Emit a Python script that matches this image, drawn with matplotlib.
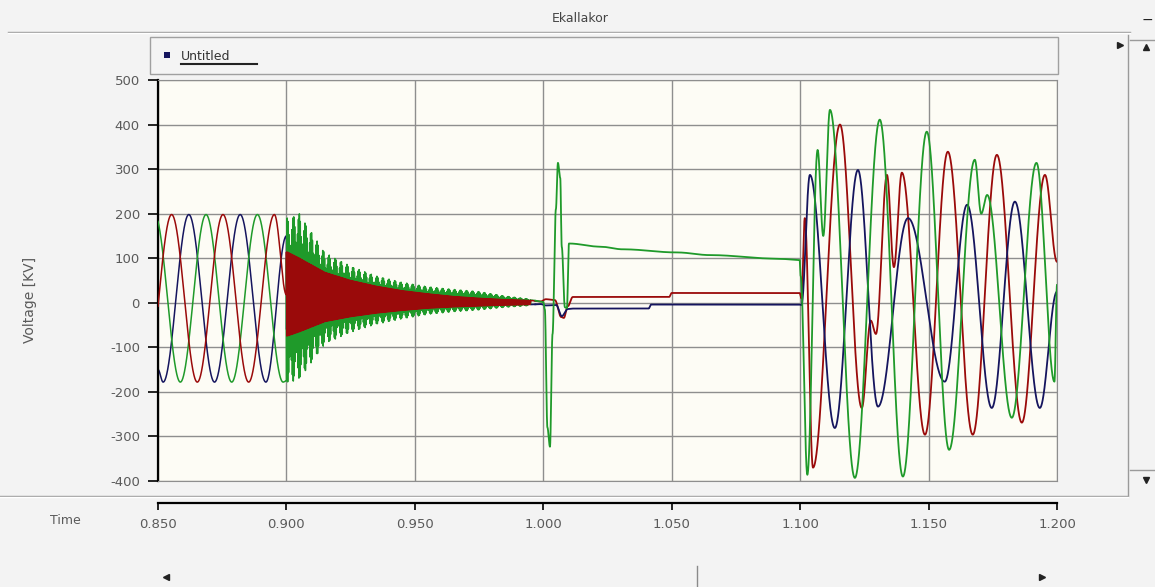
import numpy as np
import matplotlib.pyplot as plt
from matplotlib.lines import Line2D
from matplotlib.patches import Rectangle

plt.rcParams['axes.unicode_minus'] = False

# three phase voltages, kV, as (time, value) turning points
red_t = [0.8453, 0.8553, 0.8653, 0.8753, 0.8853, 0.8953, 0.9000,
         0.9950, 0.9990, 1.0010, 1.0045, 1.0070, 1.0080, 1.0095, 1.0115, 1.0490, 1.0500, 1.0998,
         1.1005, 1.1018, 1.1050, 1.1155, 1.1240, 1.1275, 1.1295, 1.1338, 1.1365, 1.1396,
         1.1486, 1.1575, 1.1672, 1.1766, 1.1863, 1.1953, 1.2000]
red_v = [-178, 198, -178, 198, -178, 198, 18,
         5, 3, 8, 6, -32, -34, -8, 13, 13, 22, 22,
         10, 190, -370, 400, -236, -40, -70, 287, 80, 292,
         -296, 339, -296, 332, -269, 287, 92]

navy_t = [0.8500, 0.8520, 0.8620, 0.8720, 0.8820, 0.8920, 0.9000,
          0.9950, 0.9990, 1.0010, 1.0050, 1.0072, 1.0095, 1.0115, 1.0410, 1.0420, 1.0998,
          1.1005, 1.1038, 1.1135, 1.1225, 1.1303, 1.1420, 1.1563, 1.1650, 1.1746,
          1.1836, 1.1933, 1.2000]
navy_v = [-150, -178, 198, -178, 198, -178, 150,
          -4, -3, -6, -5, -30, -14, -13, -13, -4, -4,
          -5, 287, -281, 298, -233, 190, -177, 220, -236,
          227, -236, 25]

green_t = [0.8487, 0.8587, 0.8687, 0.8787, 0.8887, 0.8987, 0.9000,
           0.9950, 1.0000, 1.0006, 1.0016, 1.0026, 1.0036, 1.0049, 1.0057, 1.0066, 1.0072,
           1.0084, 1.0092, 1.0100, 1.0220, 1.0310, 1.0520, 1.0650, 1.0910, 1.0998,
           1.1002, 1.1028, 1.1068, 1.1090, 1.1116, 1.1213, 1.1310, 1.1400, 1.1493, 1.1580,
           1.1680, 1.1705, 1.1728, 1.1824, 1.1920, 1.1990, 1.2000]
green_v = [198, -178, 198, -178, 198, -178, -175,
           6, 2, -15, -280, -323, -70, 210, 314, 280, 125,
           -10, -12, 133, 126, 120, 113, 107, 99, 96,
           60, -386, 343, 150, 433, -393, 411, -390, 384, -330,
           321, 200, 242, -258, 314, -177, 40]

# envelope of the high frequency ringing after switching at 0.9 s
env_t = [0.900, 0.905, 0.915, 0.925, 0.935, 0.945, 0.955, 0.965, 0.975, 0.985, 0.995]
green_up = [190, 200, 112, 82, 60, 46, 36, 30, 25, 15, 8]
green_lo = [-180, -172, -92, -66, -48, -36, -26, -20, -16, -10, -6]
red_up = [115, 100, 68, 50, 37, 27, 20, 14, 10, 7, 5]
red_lo = [-75, -65, -42, -31, -23, -17, -12, -9, -7, -5, -4]

W, H = 1155, 587


def fx(x):
    return x / W


def fy(y):
    return 1 - y / H


def lobes(tk, vk, t):
    # half-cosine segments between turning points
    tk = np.asarray(tk, float)
    vk = np.asarray(vk, float)
    y = np.full_like(t, np.nan)
    i = np.searchsorted(tk, t, side='right') - 1
    ok = (i >= 0) & (i < len(tk) - 1)
    i0 = i[ok]
    s = (t[ok] - tk[i0]) / (tk[i0 + 1] - tk[i0])
    y[ok] = vk[i0] + (vk[i0 + 1] - vk[i0]) * (1 - np.cos(np.pi * s)) / 2
    y[t >= tk[-1]] = vk[-1]
    return y


def ringing(y, up, lo, carrier):
    m = (t >= 0.9) & (t < 0.995)
    u = np.interp(t[m], env_t, up)
    l = np.interp(t[m], env_t, lo)
    y[m] = (u + l) / 2 + (u - l) / 2 * carrier[m]
    return y


t = np.arange(0.85, 1.20001, 1e-5)
w = 2 * np.pi * 2750
red = ringing(lobes(red_t, red_v, t), red_up, red_lo, np.cos(w * t))
navy = ringing(lobes(navy_t, navy_v, t), np.array(red_up) * 0.8, np.array(red_lo) * 0.8,
               np.cos(w * t + 2.1))
green = ringing(lobes(green_t, green_v, t), green_up, green_lo,
                0.8 * np.cos(w * t + 1.0) + 0.2 * np.cos(2 * np.pi * 3180 * t))

c_red = '#9a0a0a'
c_navy = '#15155e'
c_green = '#1f9a2a'

fig = plt.figure(figsize=(W / 100, H / 100), dpi=100, facecolor='#f3f3f3')
ax = fig.add_axes([fx(158), fy(481), (1057 - 158) / W, (481 - 80) / H], facecolor='#fdfcf5')

early = t < 0.997
late = t >= 0.9969
ax.plot(t[early], navy[early], color=c_navy, lw=1.1, zorder=2)
ax.plot(t[early], green[early], color=c_green, lw=1.1, zorder=3)
ax.plot(t[early], red[early], color=c_red, lw=1.1, zorder=4)
ax.plot(t[late], red[late], color=c_red, lw=1.3, zorder=2)
ax.plot(t[late], navy[late], color=c_navy, lw=1.3, zorder=3)
ax.plot(t[late], green[late], color=c_green, lw=1.3, zorder=4)

ax.set_xlim(0.85, 1.2)
ax.set_ylim(-400, 500)
ax.set_xticks(np.arange(0.85, 1.2001, 0.05))
ax.set_yticks(np.arange(-400, 501, 100))
ax.grid(True, color='#8e8e8e', lw=1.0)
ax.set_axisbelow(True)
ax.tick_params(axis='x', length=0, labelbottom=False)
ax.tick_params(axis='y', direction='out', length=7, width=1.2, colors='black',
               labelcolor='#5a5a5a', labelsize=9.5, pad=6)
for side in ['top', 'right', 'bottom']:
    ax.spines[side].set_color('#8e8e8e')
ax.spines['left'].set_linewidth(1.6)

# separate time axis below the plot
tax = fig.add_axes([fx(158), fy(503), (1057 - 158) / W, 0.0001])
tax.set_xlim(0.85, 1.2)
tax.set_xticks(np.arange(0.85, 1.2001, 0.05))
tax.set_xticklabels(['%.3f' % v for v in np.arange(0.85, 1.2001, 0.05)])
tax.set_yticks([])
tax.patch.set_alpha(0)
for side in ['top', 'right', 'left']:
    tax.spines[side].set_visible(False)
tax.spines['bottom'].set_linewidth(1.6)
tax.tick_params(axis='x', direction='out', length=5, width=1.2, labelcolor='#5a5a5a',
                labelsize=9.5, pad=6)

fig.text(fx(30), fy(300), 'Voltage [KV]', rotation=90, ha='center', va='center',
         fontsize=10, color='#5a5a5a')
fig.text(fx(50), fy(520), 'Time', ha='left', va='center', fontsize=9, color='#5a5a5a')
fig.text(fx(580), fy(18), 'Ekallakor', ha='center', va='center', fontsize=9, color='#444444')
fig.text(fx(1147), fy(20), '\u2212', ha='center', va='center', fontsize=10, color='#222222')


def hline(y, x0, x1, color='#9a9a9a', lw=1.0):
    fig.add_artist(Line2D([fx(x0), fx(x1)], [fy(y), fy(y)], color=color, lw=lw))


def vline(x, y0, y1, color='#9a9a9a', lw=1.0):
    fig.add_artist(Line2D([fx(x), fx(x)], [fy(y0), fy(y1)], color=color, lw=lw))


hline(32, 8, 1130)
hline(33, 8, 1130, color='white')
hline(496, 0, 1128)
hline(497, 0, 1128, color='white')

# legend bar
fig.add_artist(Rectangle((fx(150), fy(74)), (1058 - 150) / W, (74 - 37) / H,
                         facecolor='#f4f4f4', edgecolor='#a0a0a0', lw=1.0))
fig.add_artist(Rectangle((fx(164), fy(58)), 6 / W, 6 / H, facecolor=c_navy, edgecolor='none'))
fig.text(fx(181), fy(56), 'Untitled', ha='left', va='center', fontsize=9, color='#333333')
hline(64, 181, 257, color='#222222', lw=1.5)

# scroll bars
vline(1128, 35, 495)
hline(40, 1130, 1155)
hline(470, 1130, 1155)
fig.add_artist(Line2D([fx(1120)], [fy(45)], marker='>', ms=4, color='#222222'))
fig.add_artist(Line2D([fx(1146)], [fy(47)], marker='^', ms=4, color='#222222'))
fig.add_artist(Line2D([fx(1146)], [fy(480)], marker='v', ms=4, color='#222222'))
fig.add_artist(Line2D([fx(166)], [fy(577)], marker='<', ms=4, color='#222222'))
fig.add_artist(Line2D([fx(1042)], [fy(577)], marker='>', ms=4, color='#222222'))
vline(697, 566, 587, color='#8a8a8a')

fig.savefig('out.png', dpi=100, facecolor=fig.get_facecolor())
